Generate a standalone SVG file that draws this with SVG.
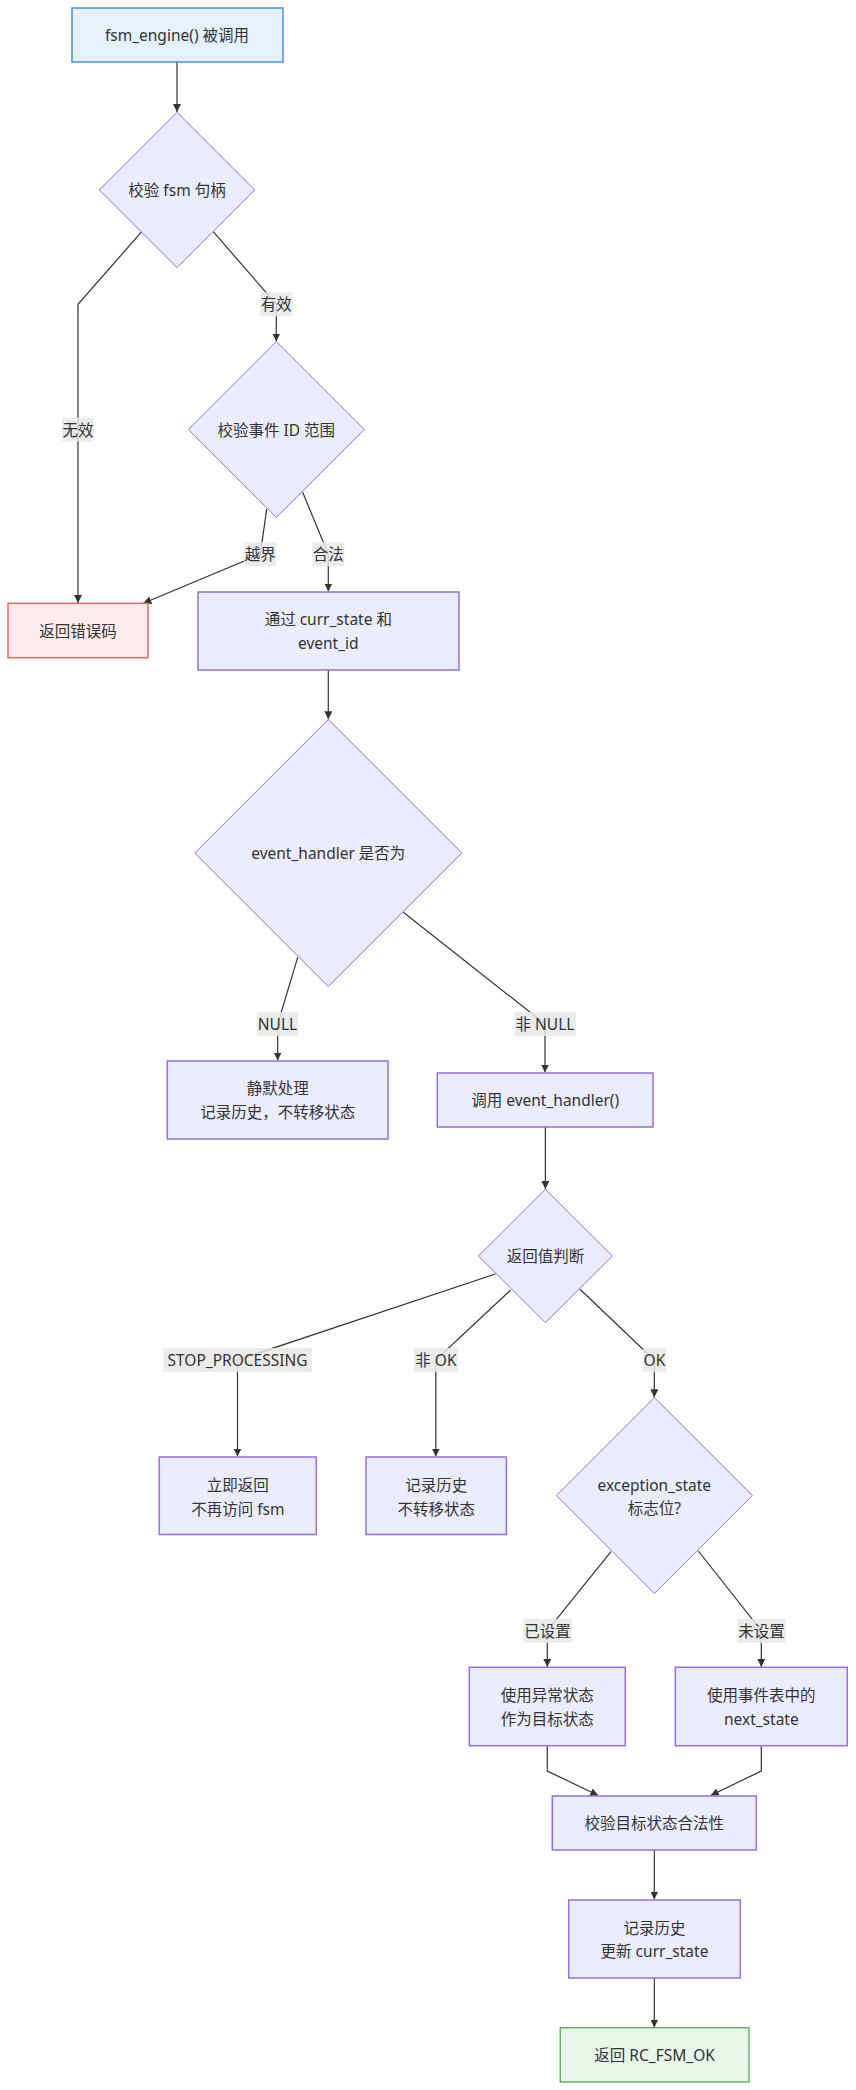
<svg xmlns="http://www.w3.org/2000/svg" width="856" height="2090" viewBox="0 0 856 2090">
<style>
text{font-family:"Noto Sans","Noto Sans CJK SC",sans-serif;font-size:15.5px;fill:#333;text-anchor:middle;dominant-baseline:central}
.n{fill:#ECECFF;stroke:#9370DB;stroke-width:1.5}
.d{fill:#ECECFF;stroke:#9370DB;stroke-width:1}
.start{fill:#E3F2FD;stroke:#4A90E2;stroke-width:1.5}
.err{fill:#FFEBEE;stroke:#E06C6C;stroke-width:1.5}
.ok{fill:#E8F5E9;stroke:#6AAE6A;stroke-width:1.5}
.e{fill:none;stroke:#333;stroke-width:1.2;marker-end:url(#arr)}
.lb{fill:#e8e8e8;fill-opacity:0.85}
</style>
<defs>
<marker id="arr" viewBox="0 0 10 10" refX="10" refY="5" markerUnits="userSpaceOnUse" markerWidth="8" markerHeight="8" orient="auto">
<path d="M0,0 L10,5 L0,10 z" fill="#333"/>
</marker>
</defs>
<rect width="856" height="2090" fill="#fff"/>
<g id="connectors">
<path class="e" d="M177,62 L177,112"/>
<path class="e" d="M141.7,231.7 L78,304.3 L78,603"/>
<path class="e" d="M213.3,231.7 L276.3,304.3 L276.3,341.5"/>
<path class="e" d="M266.7,509 L260.3,554.3 L143.3,603.3"/>
<path class="e" d="M302.7,492.3 L328.3,554.3 L328.3,591.5"/>
<path class="e" d="M328.3,670 L328.3,719.3"/>
<path class="e" d="M297.7,957.3 L277.7,1024 L277.7,1060.5"/>
<path class="e" d="M403.3,912.3 L545,1024 L545,1072.5"/>
<path class="e" d="M545.4,1127 L545.4,1189"/>
<path class="e" d="M495.4,1274 L237.5,1360 L237.5,1456.5"/>
<path class="e" d="M510.7,1290 L435.8,1360 L435.8,1456.5"/>
<path class="e" d="M580,1289.3 L654.3,1360 L654.3,1397.3"/>
<path class="e" d="M611,1551.7 L547.3,1630.7 L547.3,1667"/>
<path class="e" d="M698.3,1551 L761.3,1630.7 L761.3,1667"/>
<path class="e" d="M547.3,1746 L547.3,1771 L598.3,1795.5"/>
<path class="e" d="M761.3,1746 L761.3,1771 L710.7,1795.5"/>
<path class="e" d="M654.3,1850 L654.3,1899.5"/>
<path class="e" d="M654.3,1978 L654.3,2027.5"/>
<g id="edge-labels">
<rect class="lb" x="62" y="417.5" width="32" height="24"/><text x="78" y="429.5">无效</text>
<rect class="lb" x="260.3" y="292.3" width="32" height="24"/><text x="276.3" y="304.3">有效</text>
<rect class="lb" x="244.3" y="542.3" width="32" height="24"/><text x="260.3" y="554.3">越界</text>
<rect class="lb" x="312.3" y="542.3" width="32" height="24"/><text x="328.3" y="554.3">合法</text>
<rect class="lb" x="257" y="1012" width="41" height="24"/><text x="277.5" y="1024">NULL</text>
<rect class="lb" x="514" y="1012" width="62" height="24"/><text x="545" y="1024">非 NULL</text>
<rect class="lb" x="163.2" y="1348" width="148.6" height="24"/><text x="237.5" y="1360">STOP_PROCESSING</text>
<rect class="lb" x="413.9" y="1348" width="44" height="24"/><text x="435.9" y="1360">非 OK</text>
<rect class="lb" x="642.9" y="1348" width="23" height="24"/><text x="654.4" y="1360">OK</text>
<rect class="lb" x="523.3" y="1619" width="48.4" height="24"/><text x="547.5" y="1631">已设置</text>
<rect class="lb" x="737.3" y="1619" width="48.4" height="24"/><text x="761.5" y="1631">未设置</text>
</g>
</g>
<g id="start"><rect class="start" x="72" y="8" width="211" height="54"/><text x="177" y="35">fsm_engine() 被调用</text></g>
<g id="check_fsm"><polygon class="d" points="177,112.3 254.7,190 177,267.7 99.3,190"/><text x="177" y="190">校验 fsm 句柄</text></g>
<g id="check_event"><polygon class="d" points="276.3,341.5 364.3,429.5 276.3,517.5 188.3,429.5"/><text x="276.3" y="430">校验事件 ID 范围</text></g>
<g id="return_error"><rect class="err" x="8" y="603.3" width="140" height="54.4"/><text x="78" y="630.5">返回错误码</text></g>
<g id="lookup"><rect class="n" x="198" y="592" width="261" height="78"/><text x="328.3" y="619.3">通过 curr_state 和</text><text x="328.3" y="643.3">event_id</text></g>
<g id="handler_null"><polygon class="d" points="328.3,719.5 461.8,853 328.3,986.5 194.8,853"/><text x="328.3" y="853">event_handler 是否为</text></g>
<g id="silent"><rect class="n" x="167.3" y="1061" width="220.7" height="78"/><text x="277.7" y="1088.3">静默处理</text><text x="277.7" y="1112.3">记录历史，不转移状态</text></g>
<g id="call_handler"><rect class="n" x="437.3" y="1073" width="215.7" height="54"/><text x="545.2" y="1100">调用 event_handler()</text></g>
<g id="ret_check"><polygon class="d" points="545.4,1189.3 612.4,1256 545.4,1322.7 478.4,1256"/><text x="545.4" y="1256">返回值判断</text></g>
<g id="stop"><rect class="n" x="159.3" y="1457" width="157" height="77.5"/><text x="237.8" y="1484.5">立即返回</text><text x="237.8" y="1508.5">不再访问 fsm</text></g>
<g id="not_ok"><rect class="n" x="366" y="1457" width="140.4" height="77.5"/><text x="436.2" y="1484.5">记录历史</text><text x="436.2" y="1508.5">不转移状态</text></g>
<g id="exc_check"><polygon class="d" points="654.3,1397.5 752.3,1495.5 654.3,1593.5 556.3,1495.5"/><text x="654.3" y="1484.5">exception_state</text><text x="654.3" y="1508">标志位?</text></g>
<g id="use_exc"><rect class="n" x="469.3" y="1667.3" width="156" height="78.4"/><text x="547.3" y="1695">使用异常状态</text><text x="547.3" y="1719">作为目标状态</text></g>
<g id="use_next"><rect class="n" x="675.3" y="1667.3" width="172" height="78.4"/><text x="761.3" y="1695">使用事件表中的</text><text x="761.3" y="1719">next_state</text></g>
<g id="validate"><rect class="n" x="552.3" y="1796" width="204" height="54"/><text x="654.3" y="1823">校验目标状态合法性</text></g>
<g id="record"><rect class="n" x="568.7" y="1900" width="171.6" height="78"/><text x="654.5" y="1927.5">记录历史</text><text x="654.5" y="1951">更新 curr_state</text></g>
<g id="return_ok"><rect class="ok" x="560.3" y="2027.7" width="188.7" height="54.3"/><text x="654.6" y="2055">返回 RC_FSM_OK</text></g>
</svg>
